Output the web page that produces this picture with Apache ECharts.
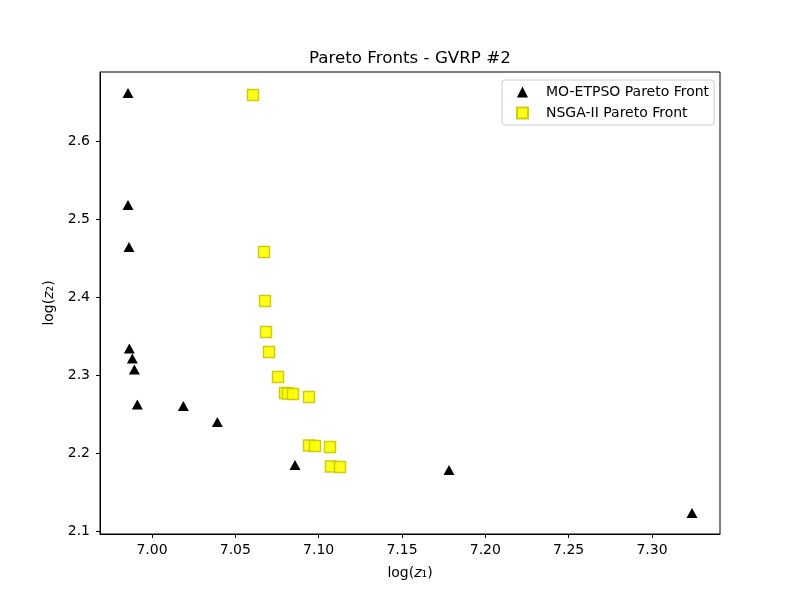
<!DOCTYPE html>
<html>
<head>
<meta charset="utf-8">
<script src="https://cdn.jsdelivr.net/npm/echarts@6/dist/echarts.min.js"></script>
<style>
  html, body { margin: 0; padding: 0; background: #fff; }
  #chart { width: 800px; height: 600px; }
</style>
</head>
<body>
<div id="chart"></div>
<script>
"use strict";
// MO-ETPSO front: [log z1, log z2]
var etpsoX = [6.9856, 6.9856, 6.9862, 6.9864, 6.9882, 6.9894, 6.9912, 7.0188, 7.0392, 7.0858, 7.1782, 7.3240];
var etpsoY = [2.6615, 2.5179, 2.4641, 2.3340, 2.3212, 2.3071, 2.2622, 2.2603, 2.2397, 2.1846, 2.1782, 2.1231];
// NSGA-II front
var nsgaX = [7.0606, 7.0672, 7.0678, 7.0684, 7.0702, 7.0756, 7.0798, 7.0816, 7.0846, 7.0942, 7.0942, 7.0978, 7.1068, 7.1074, 7.1128];
var nsgaY = [2.6590, 2.4577, 2.3949, 2.3551, 2.3295, 2.2974, 2.2769, 2.2763, 2.2756, 2.2718, 2.2096, 2.2090, 2.2077, 2.1827, 2.1821];
var xTicks = [7.00, 7.05, 7.10, 7.15, 7.20, 7.25, 7.30];
var yTicks = [2.1, 2.2, 2.3, 2.4, 2.5, 2.6];

function pairs(xs, ys) {
    var out = [];
    for (var i = 0; i < xs.length; i++)
        out.push([xs[i], ys[i]]);
    return out;
}

var FONT = 'DejaVu Sans';
var chart = echarts.init(document.getElementById('chart'), null, { renderer: 'canvas' });

var axisCommon = {
    type: 'value',
    splitLine: { show: false },
    axisLine: { show: true, onZero: false, lineStyle: { color: '#000', width: 1 } },
    axisTick: { show: true, length: 4, lineStyle: { color: '#000' } },
    axisLabel: { color: '#000', fontFamily: FONT, fontSize: 14 },
    nameTextStyle: { color: '#000', fontFamily: FONT, fontSize: 14 }
};

var subRich = {
    i: { fontStyle: 'italic', fontFamily: FONT, fontSize: 14, color: '#000' },
    s: { fontFamily: FONT, fontSize: 14, color: '#000' }
};

chart.setOption({
    animation: false,
    backgroundColor: '#fff',
    title: {
        text: 'Pareto Fronts - GVRP #2',
        left: 304,
        top: 45,
        textStyle: { fontFamily: FONT, fontSize: 16.7, fontWeight: 'normal', color: '#000' }
    },
    grid: { left: 100, right: 80, top: 72, bottom: 66, containLabel: false,
            show: true, borderColor: '#000', borderWidth: 1 },
    legend: {
        orient: 'vertical',
        left: 502,
        top: 80,
        padding: [5, 5, 5, 14],
        itemGap: 7,
        itemWidth: 11,
        itemHeight: 11,
        backgroundColor: 'rgba(255,255,255,0.8)',
        borderColor: '#ccc',
        borderWidth: 1,
        borderRadius: 3,
        textStyle: { fontFamily: FONT, fontSize: 14, color: '#000', padding: [0, 0, 0, 13] },
        data: ['MO-ETPSO Pareto Front', 'NSGA-II Pareto Front']
    },
    xAxis: Object.assign({}, axisCommon, {
        min: 6.9688,
        max: 7.3408,
        name: '{s|log(}{i|z}{s|₁)}',
        nameLocation: 'middle',
        nameGap: 32,
        nameTextStyle: Object.assign({}, axisCommon.nameTextStyle, { rich: subRich }),
        axisTick: Object.assign({}, axisCommon.axisTick, { customValues: xTicks }),
        axisLabel: Object.assign({}, axisCommon.axisLabel, {
            customValues: xTicks,
            margin: 9,
            formatter: function (v) { return v.toFixed(2); }
        })
    }),
    yAxis: Object.assign({}, axisCommon, {
        min: 2.0962,
        max: 2.6885,
        name: '{s|log(}{i|z}{s|₂)}',
        nameLocation: 'middle',
        nameGap: 40,
        nameRotate: 90,
        nameTextStyle: Object.assign({}, axisCommon.nameTextStyle, { rich: subRich }),
        axisTick: Object.assign({}, axisCommon.axisTick, { customValues: yTicks }),
        axisLabel: Object.assign({}, axisCommon.axisLabel, {
            customValues: yTicks,
            margin: 10,
            formatter: function (v) { return v.toFixed(1); }
        })
    }),
    series: [
        {
            name: 'MO-ETPSO Pareto Front',
            type: 'scatter',
            symbol: 'triangle',
            symbolSize: [11, 10],
            itemStyle: { color: '#000', opacity: 1 },
            data: pairs(etpsoX, etpsoY),
            z: 3
        },
        {
            name: 'NSGA-II Pareto Front',
            type: 'scatter',
            symbol: 'rect',
            symbolSize: 11,
            itemStyle: { color: '#ffff00', borderColor: '#c8c800', borderWidth: 1.5, opacity: 0.9 },
            data: pairs(nsgaX, nsgaY),
            z: 4
        }
    ]
});
</script>
</body>
</html>
